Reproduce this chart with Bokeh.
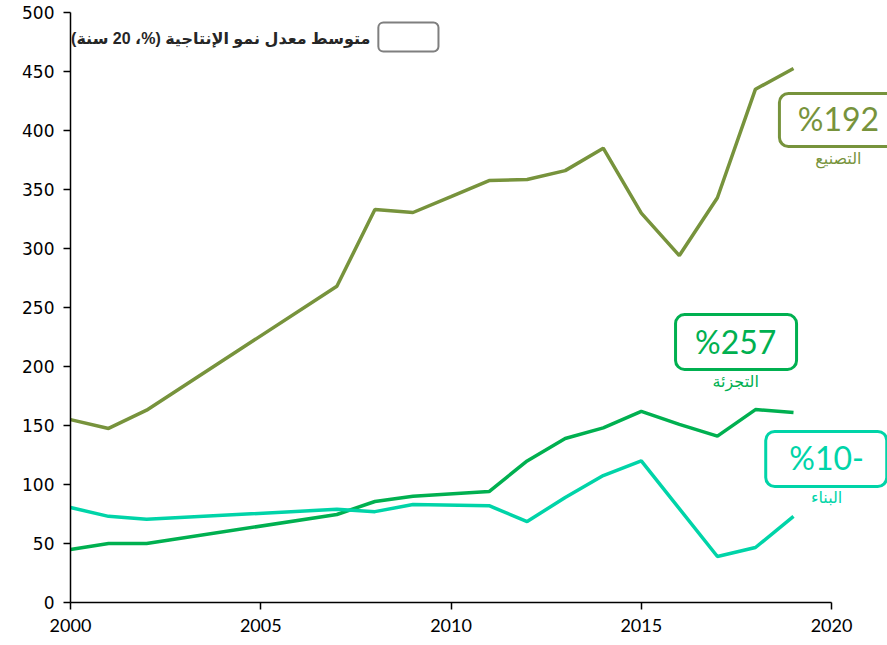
from bokeh.plotting import figure
from bokeh.models import Range1d, BoxAnnotation, Label, FixedTicker
from bokeh.embed import file_html
from bokeh.resources import INLINE

# Manufacturing (التصنيع)
manu_years = [2000, 2001, 2002, 2007, 2008, 2009, 2010, 2011, 2012, 2013, 2014, 2015, 2016, 2017, 2018, 2019]
manu_vals = [155, 147.5, 163, 268, 333, 330.5, 344, 357.6, 358.5, 366, 385, 330, 294, 343, 435, 452.5]

# Retail (التجزئة)
retail_years = [2000, 2001, 2002, 2007, 2008, 2009, 2011, 2012, 2013, 2014, 2015, 2016, 2017, 2018, 2019]
retail_vals = [45, 50, 50, 74.6, 85.6, 90, 94, 120, 139, 148, 162, 151, 141, 163.5, 161]

# Construction (البناء)
cons_years = [2000, 2001, 2002, 2007, 2008, 2009, 2011, 2012, 2013, 2014, 2015, 2017, 2018, 2019]
cons_vals = [80.5, 73, 70.5, 79, 77, 83, 82, 68.6, 89, 107.6, 120, 39, 46.6, 73]

y_ticks = [0, 50, 100, 150, 200, 250, 300, 350, 400, 450, 500]
x_ticks = [2000, 2005, 2010, 2015, 2020]

series_names = ["التصنيع", "التجزئة", "البناء"]
growth_labels = ["%192", "%257", "%10-"]
legend_text = "متوسط معدل نمو الإنتاجية (%، 20 سنة)"

c_manu = "#77933C"
c_retail = "#00B050"
c_cons = "#00D4A8"

p = figure(width=887, height=645, output_backend="svg", toolbar_location=None,
           x_range=Range1d(2000, 2021.47), y_range=Range1d(0, 500),
           min_border_left=70, min_border_top=12, min_border_bottom=43, min_border_right=0)
p.outline_line_color = None
p.xgrid.grid_line_color = None
p.ygrid.grid_line_color = None

for ax in (p.xaxis[0], p.yaxis[0]):
    ax.axis_line_color = "black"
    ax.axis_line_width = 1.5
    ax.major_tick_line_color = "black"
    ax.major_tick_line_width = 1.5
    ax.major_tick_out = 7
    ax.major_tick_in = 0
    ax.minor_tick_line_color = None
    ax.major_label_text_color = "black"

p.xaxis[0].ticker = FixedTicker(ticks=x_ticks)
p.xaxis[0].bounds = (2000, 2020)
p.xaxis[0].major_label_text_font = "Liberation Sans Narrow, Lato, sans-serif"
p.xaxis[0].major_label_text_font_size = "18px"
p.xaxis[0].major_label_standoff = 9

p.yaxis[0].ticker = FixedTicker(ticks=y_ticks)
p.yaxis[0].major_label_text_font = "DejaVu Sans, sans-serif"
p.yaxis[0].major_label_text_font_size = "17px"
p.yaxis[0].major_label_standoff = 9

p.line(manu_years, manu_vals, line_color=c_manu, line_width=3.5)
p.line(retail_years, retail_vals, line_color=c_retail, line_width=3.5)
p.line(cons_years, cons_vals, line_color=c_cons, line_width=3.5)

def box(l, r, b, t, col, w=3, rad=9):
    p.add_layout(BoxAnnotation(left=l, right=r, bottom=b, top=t, fill_color="white", fill_alpha=1.0,
                               line_color=col, line_alpha=1.0, line_width=w, border_radius=rad))

num_font = "Lato, sans-serif"
ar_font = "DejaVu Sans, sans-serif"

# manufacturing annotation
box(2018.63, 2022.5, 386.4, 431.4, c_manu)
p.add_layout(Label(x=2020.18, y=410, text=growth_labels[0], text_align="center", text_baseline="middle",
                   text_color=c_manu, text_font=num_font, text_font_size="32px"))
p.add_layout(Label(x=2020.18, y=376, text=series_names[0], text_align="center", text_baseline="middle",
                   text_color=c_manu, text_font=ar_font, text_font_size="16px"))

# retail annotation
box(2015.9, 2019.08, 197.5, 244, c_retail)
p.add_layout(Label(x=2017.48, y=221, text=growth_labels[1], text_align="center", text_baseline="middle",
                   text_color=c_retail, text_font=num_font, text_font_size="32px"))
p.add_layout(Label(x=2017.48, y=187, text=series_names[1], text_align="center", text_baseline="middle",
                   text_color=c_retail, text_font=ar_font, text_font_size="16px"))

# construction annotation
box(2018.27, 2021.45, 98.3, 145, c_cons)
p.add_layout(Label(x=2019.87, y=123, text=growth_labels[2], text_align="center", text_baseline="middle",
                   text_color=c_cons, text_font=num_font, text_font_size="32px"))
p.add_layout(Label(x=2019.87, y=89, text=series_names[2], text_align="center", text_baseline="middle",
                   text_color=c_cons, text_font=ar_font, text_font_size="16px"))

# legend
box(2008.09, 2009.67, 467, 491.5, "#7F7F7F", w=2, rad=5)
p.add_layout(Label(x=2007.88, y=478, text=legend_text, text_align="right", text_baseline="middle",
                   text_color="#262626", text_font="Liberation Sans, DejaVu Sans, sans-serif",
                   text_font_style="bold", text_font_size="16px"))

open("out.html", "w").write(file_html(p, INLINE))
